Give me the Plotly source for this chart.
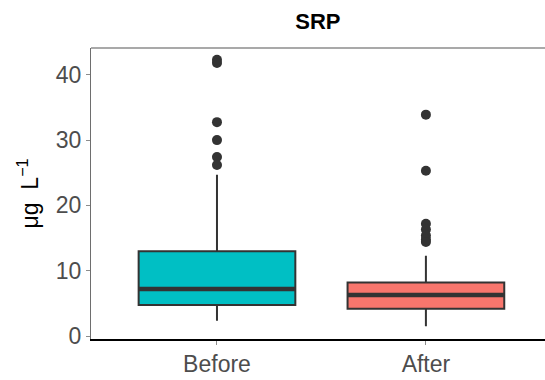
import plotly.graph_objects as go

# Summary statistics of SRP (µg L-1) per period
periods = ["Before", "After"]
lower_whisker = [2.35, 1.5]
q1 = [4.75, 4.2]
median = [7.2, 6.3]
q3 = [13.0, 8.2]
upper_whisker = [24.7, 12.3]
fill_colors = ["#00BFC4", "#F8766D"]

# Outlying observations
outliers_before = [42.3, 41.8, 32.75, 30.0, 27.4, 26.2]
outliers_after = [33.9, 25.3, 17.2, 16.3, 15.4, 14.8, 14.4]
outliers = [outliers_before, outliers_after]

box_width = 0.75
edge = "#333333"

fig = go.Figure()
for i, name in enumerate(periods):
    fig.add_trace(go.Box(
        x=[i], q1=[q1[i]], median=[median[i]], q3=[q3[i]],
        lowerfence=[lower_whisker[i]], upperfence=[upper_whisker[i]],
        width=box_width, whiskerwidth=0,
        fillcolor=fill_colors[i],
        line=dict(color=edge, width=2),
        boxpoints=False, hoverinfo="skip", showlegend=False,
    ))
    # thicker median bar
    fig.add_trace(go.Scatter(
        x=[i - box_width / 2, i + box_width / 2], y=[median[i], median[i]],
        mode="lines", line=dict(color=edge, width=4.5),
        hoverinfo="skip", showlegend=False,
    ))
    fig.add_trace(go.Scatter(
        x=[i] * len(outliers[i]), y=outliers[i], mode="markers",
        marker=dict(color=edge, size=10),
        hoverinfo="skip", showlegend=False,
    ))

fig.update_layout(
    width=545, height=380,
    margin=dict(l=91, r=0, t=48, b=41),
    paper_bgcolor="white", plot_bgcolor="white",
    font=dict(family="Liberation Sans, Arial, sans-serif"),
    title=dict(text="<b>SRP</b>", x=0.5833, xanchor="center", y=0.943, yanchor="middle",
               font=dict(size=22, color="black")),
    shapes=[dict(type="line", xref="paper", yref="paper", x0=0, x1=1, y0=1, y1=1,
                 line=dict(color="#8c8c8c", width=1.3))],
)
fig.update_xaxes(
    range=[-0.603, 1.57], tickvals=[0, 1], ticktext=periods,
    showgrid=False, zeroline=False,
    showline=True, linecolor="black", linewidth=1.5,
    ticks="outside", ticklen=4, tickcolor="#8c8c8c", tickwidth=1,
    tickfont=dict(size=23, color="#4d4d4d"),
)
fig.update_yaxes(
    range=[-0.45, 44.1], tickvals=[0, 10, 20, 30, 40],
    showgrid=False, zeroline=False,
    showline=True, linecolor="#6e6e6e", linewidth=1.2,
    ticks="outside", ticklen=4, tickcolor="#8c8c8c", tickwidth=1,
    tickfont=dict(size=23, color="#4d4d4d"),
    title=dict(text="μg  L<sup>−1</sup>", font=dict(size=23, color="black"), standoff=10),
)

fig.write_html("out.html")
